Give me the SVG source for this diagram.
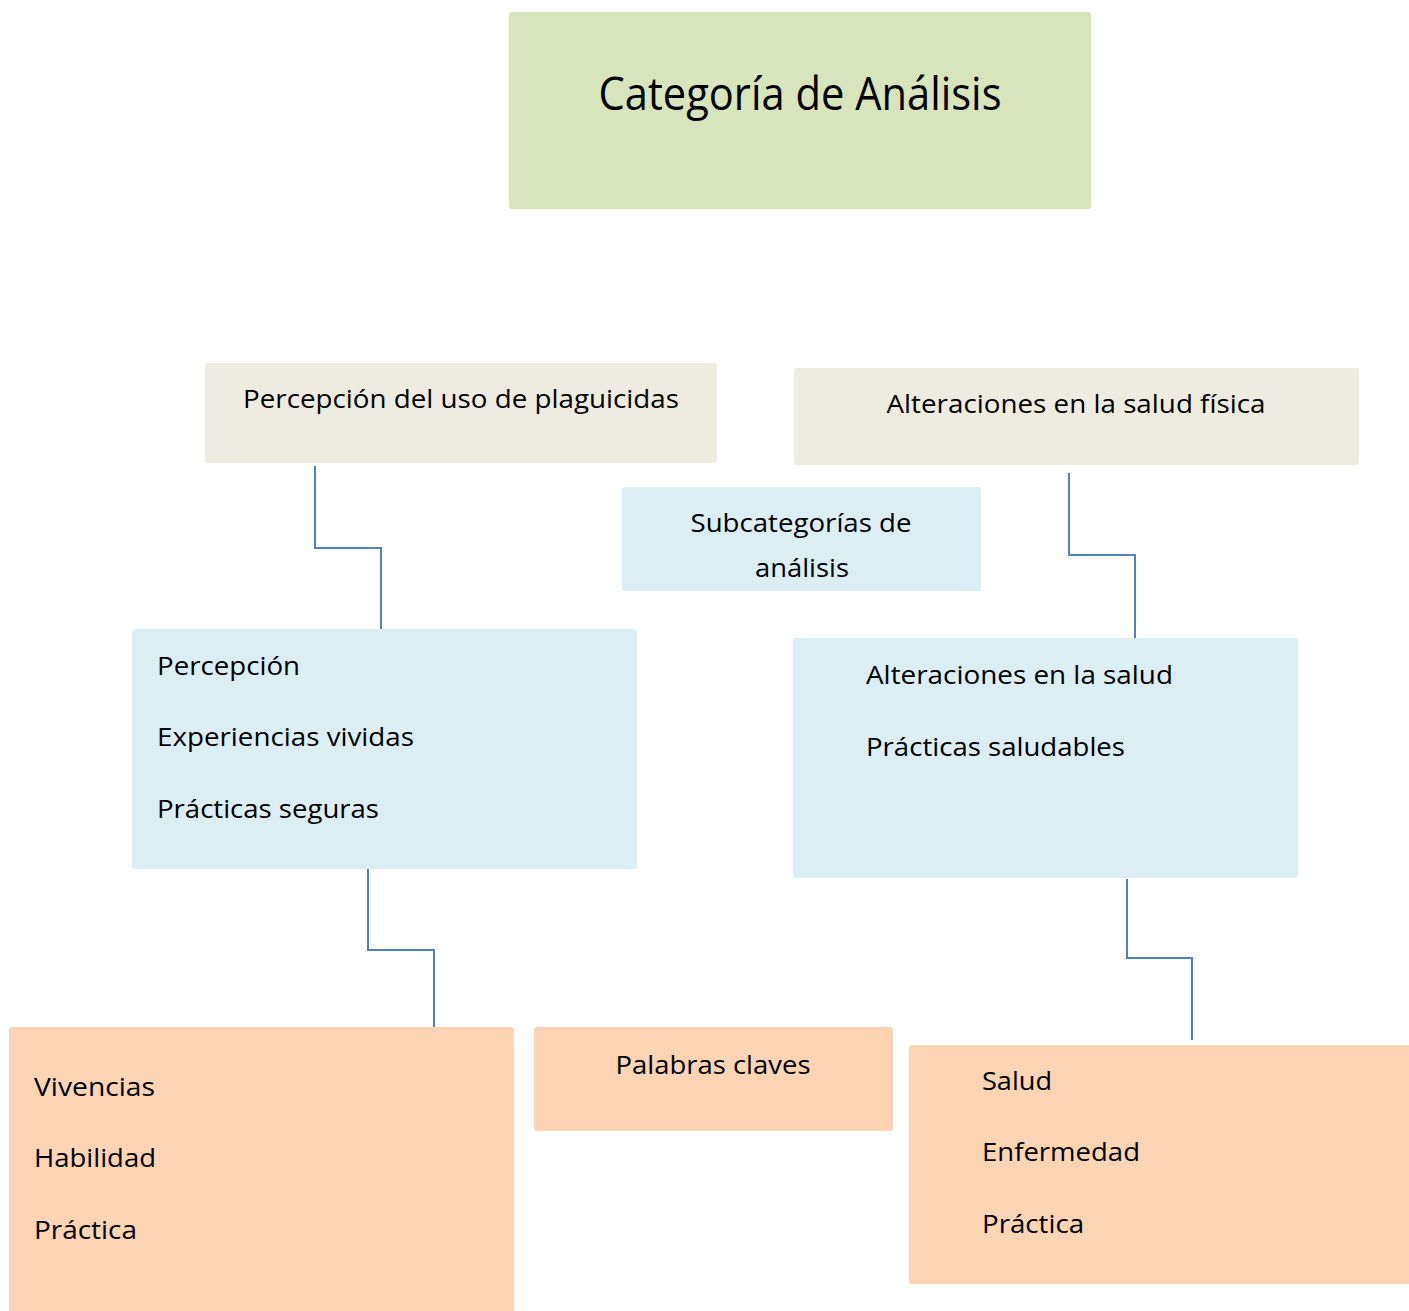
<svg xmlns="http://www.w3.org/2000/svg" width="1409" height="1311" viewBox="0 0 1409 1311">
<style>
text{font-family:"Open Sans","Noto Sans","Liberation Sans",sans-serif;fill:#000;font-size:25px}
.t{font-size:45px}
.g{fill:#D8E4BC}
.b{fill:#EEEBE0}
.c{fill:#DAEEF3}
.o{fill:#FBD4B4}
.m{text-anchor:middle}
.ln{fill:none;stroke:#4F81BD;stroke-width:2}
</style>
<rect width="1409" height="1311" fill="#fff"/>
<g id="connectors">
<polyline class="ln" points="315,466 315,548 381,548 381,631"/>
<polyline class="ln" points="1069,473 1069,555 1135,555 1135,638"/>
<polyline class="ln" points="368,868 368,950 434,950 434,1033"/>
<polyline class="ln" points="1127,879 1127,958 1192,958 1192,1040"/>
</g>
<g id="categoria">
<rect class="g" x="509" y="12" width="582" height="197" rx="3"/>
<text class="t m" x="800" y="110" textLength="403" lengthAdjust="spacingAndGlyphs">Categoría de Análisis</text>
</g>
<g id="percepcion-uso">
<rect class="b" x="205" y="363" width="512" height="100" rx="3"/>
<text class="m" x="461" y="408" textLength="436" lengthAdjust="spacingAndGlyphs">Percepción del uso de plaguicidas</text>
</g>
<g id="alteraciones-fisica">
<rect class="b" x="794" y="368" width="565" height="97" rx="3"/>
<text class="m" x="1076" y="413" textLength="379" lengthAdjust="spacingAndGlyphs">Alteraciones en la salud física</text>
</g>
<g id="subcategorias">
<rect class="c" x="622" y="487" width="359" height="104" rx="3"/>
<text class="m" x="801" y="532" textLength="221" lengthAdjust="spacingAndGlyphs">Subcategorías de</text>
<text class="m" x="802" y="577" textLength="94" lengthAdjust="spacingAndGlyphs">análisis</text>
</g>
<g id="sub-izq">
<rect class="c" x="132" y="629" width="505" height="240" rx="3"/>
<text x="157" y="675" textLength="143" lengthAdjust="spacingAndGlyphs">Percepción</text>
<text x="157" y="746" textLength="257" lengthAdjust="spacingAndGlyphs">Experiencias vividas</text>
<text x="157" y="818" textLength="222" lengthAdjust="spacingAndGlyphs">Prácticas seguras</text>
</g>
<g id="sub-der">
<rect class="c" x="793" y="638" width="505" height="240" rx="3"/>
<text x="866" y="684" textLength="307" lengthAdjust="spacingAndGlyphs">Alteraciones en la salud</text>
<text x="866" y="756" textLength="259" lengthAdjust="spacingAndGlyphs">Prácticas saludables</text>
</g>
<g id="claves-izq">
<rect class="o" x="9" y="1027" width="505" height="300" rx="3"/>
<text x="34" y="1096" textLength="121" lengthAdjust="spacingAndGlyphs">Vivencias</text>
<text x="34" y="1167" textLength="122" lengthAdjust="spacingAndGlyphs">Habilidad</text>
<text x="34" y="1239" textLength="103" lengthAdjust="spacingAndGlyphs">Práctica</text>
</g>
<g id="palabras-claves">
<rect class="o" x="534" y="1027" width="359" height="104" rx="3"/>
<text class="m" x="713" y="1074" textLength="195" lengthAdjust="spacingAndGlyphs">Palabras claves</text>
</g>
<g id="claves-der">
<rect class="o" x="909" y="1045" width="510" height="239" rx="3"/>
<text x="982" y="1090" textLength="70" lengthAdjust="spacingAndGlyphs">Salud</text>
<text x="982" y="1161" textLength="158" lengthAdjust="spacingAndGlyphs">Enfermedad</text>
<text x="982" y="1233" textLength="102" lengthAdjust="spacingAndGlyphs">Práctica</text>
</g>
</svg>
